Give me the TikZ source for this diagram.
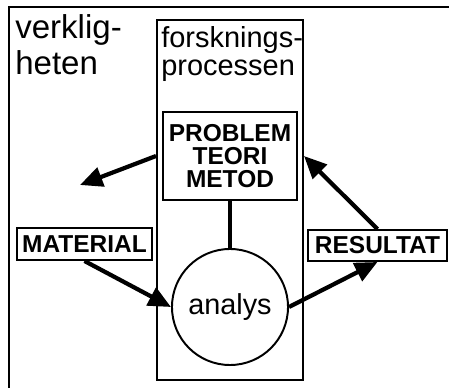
\documentclass[tikz,border=0pt]{standalone}
\usepackage{fontspec}
\setmainfont{Liberation Sans}
\usetikzlibrary{arrows.meta}

\begin{document}
\begin{tikzpicture}[x=0.025cm,y=-0.025cm,
        boks/.style={draw,line width=1.4pt,inner sep=0pt,align=center,font=\bfseries\fontsize{17.4}{16.6}\selectfont},
        pil/.style={line width=3pt,-{Triangle[length=16pt,width=14pt]}}]
        \useasboundingbox (0,0) rectangle (449,388);
        \draw[line width=1.4pt] (9,388) -- (9,7) -- (449,7);

        \node[draw,line width=1.4pt,minimum width=3.65cm,minimum height=9cm] (forskning) at (230,200) {};
        \node[anchor=north west,inner sep=0pt,align=left,font=\fontsize{23.5}{25.6}\selectfont] (verklighet) at (15,14) {verklig-\\heten};
        \node[anchor=north west,inner sep=0pt,align=left,font=\fontsize{20.6}{19.9}\selectfont] (rubrik) at (161,26) {forsknings-\\processen};

        \node[boks,minimum width=3.35cm,minimum height=2.2cm] (problem) at (230,156) {PROBLEM\\TEORI\\METOD};
        \node[draw,circle,line width=1.4pt,minimum size=2.9cm,font=\fontsize{20.5}{20}\selectfont] (analys) at (230,307) {analys};
        \node[boks,minimum width=3.375cm,minimum height=0.8cm] (material) at (84.5,244) {MATERIAL};
        \node[boks,minimum width=3.475cm,minimum height=0.775cm] (resultat) at (377.5,245.5) {RESULTAT};
        \coordinate (ut) at (80,185);

        \draw[line width=2.6pt] (problem) -- (analys);
        \draw[pil] (problem.west -| forskning.west) -- (ut);
        \draw[pil] (material.south) -- (analys.west);
        \draw[pil] (analys.east) -- (resultat.south);
        \draw[pil] (resultat.north) -- (problem.east -| forskning.east);
\end{tikzpicture}
\end{document}
